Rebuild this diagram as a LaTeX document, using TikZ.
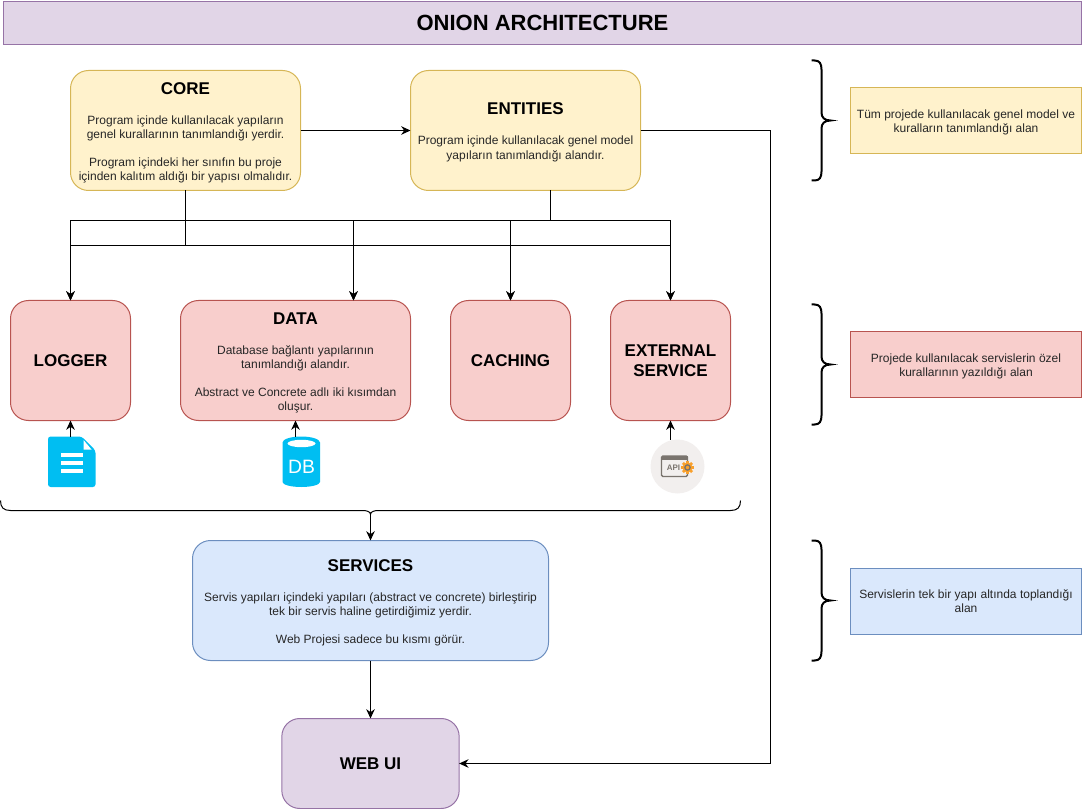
\documentclass[tikz,border=0pt]{standalone}
\usepackage{fontspec}
\setmainfont{Liberation Sans}
\usetikzlibrary{positioning,arrows.meta}
\newcommand{\headtext}[1]{{\fontsize{12.75}{14}\selectfont\bfseries\color{black}\rule{0pt}{12pt}#1}}
\newcommand{\soletext}[1]{{\fontsize{12.75}{14}\selectfont\bfseries\color{black}#1}}

\begin{document}
\begin{tikzpicture}[
  x=0.75pt, y=-0.75pt,
  line width=0.75pt,
  >={Stealth[length=7pt,width=6.4pt]},
  area/.style={draw, rounded corners=13.5pt, outer sep=0pt, inner sep=1pt, align=center, text=black!85,
    font=\fontsize{9}{10.5}\selectfont},
  yellowbox/.style={area, fill=corefill, draw=coreline},
  redbox/.style={area, fill=servfill, draw=servline},
  bluebox/.style={area, fill=bluefill, draw=blueline},
  purplebox/.style={area, fill=purpfill, draw=purpline},
  note/.style={draw, sharp corners, outer sep=0pt, inner sep=1pt, align=center, minimum width=173.25pt, minimum height=49.5pt,
    text=black!85, font=\fontsize{9}{10.5}\selectfont},
  iconspot/.style={inner sep=0pt, outer sep=0pt}
]
\definecolor{corefill}{HTML}{FFF2CC}
\definecolor{coreline}{HTML}{D6B656}
\definecolor{servfill}{HTML}{F8CECC}
\definecolor{servline}{HTML}{B85450}
\definecolor{bluefill}{HTML}{DAE8FC}
\definecolor{blueline}{HTML}{6C8EBF}
\definecolor{purpfill}{HTML}{E1D5E7}
\definecolor{purpline}{HTML}{9673A6}
\definecolor{iconblue}{HTML}{00BEF2}
\definecolor{apigrey}{HTML}{7A746E}
\definecolor{apiback}{HTML}{F2EFEE}
\definecolor{apigear}{HTML}{F9A02C}
\useasboundingbox (-0.5,-0.5) rectangle (1081.5,808.5);

% Title bar
\node[draw=purpline, fill=purpfill, outer sep=0pt, minimum width=808.5pt, minimum height=32.25pt, font=\fontsize{16.5}{19}\selectfont\bfseries] (title) at (542,22.5) {ONION ARCHITECTURE};

% Top layer
\node[yellowbox, minimum width=172.5pt, minimum height=90pt] (core) at (185,130) {\headtext{CORE}\\[12pt]Program içinde kullanılacak yapıların\\genel kurallarının tanımlandığı yerdir.\\[10.5pt]Program içindeki her sınıfın bu proje\\içinden kalıtım aldığı bir yapısı olmalıdır.};
\node[yellowbox, minimum width=172.5pt, minimum height=90pt, right=82.5pt of core] (entities) {\headtext{ENTITIES}\\[12pt]Program içinde kullanılacak genel model\\[0.5pt]yapıların tanımlandığı alandır.};
\coordinate (entout) at ([xshift=18.75pt]entities.south);

% Service layer
\node[redbox, minimum width=90pt, minimum height=90pt] (logger) at (70,360) {\soletext{LOGGER}};
\node[redbox, minimum width=172.5pt, minimum height=90pt, right=37.5pt of logger] (data) {\headtext{DATA}\\[12pt]Database bağlantı yapılarının\\tanımlandığı alandır.\\[10.5pt]Abstract ve Concrete adlı iki kısımdan\\oluşur.};
\node[redbox, minimum width=90pt, minimum height=90pt, right=30pt of data] (caching) {\soletext{CACHING}};
\node[redbox, minimum width=90pt, minimum height=90pt, right=30pt of caching] (external) {\soletext{EXTERNAL}\\[4.5pt]\soletext{SERVICE}};
\coordinate (datain) at ([xshift=43.5pt]data.north);

% Lower layers
\node[bluebox, minimum width=267pt, minimum height=90pt] (services) at (370,600) {\headtext{SERVICES}\\[12pt]Servis yapıları içindeki yapıları (abstract ve concrete) birleştirip\\tek bir servis haline getirdiğimiz yerdir.\\[10.5pt]Web Projesi sadece bu kısmı görür.};
\node[purplebox, minimum width=133pt, minimum height=67.5pt, below=43.5pt of services] (webui) {\soletext{WEB UI}};

% Notes on the right
\node[note, fill=corefill, draw=coreline] (noteyellow) at (965.5,120) {\rule{0pt}{9.5pt}Tüm projede kullanılacak genel model ve\\kuralların tanımlandığı alan};
\node[note, fill=servfill, draw=servline] (notered) at (965.5,364) {\rule{0pt}{9.5pt}Projede kullanılacak servislerin özel\\kurallarının yazıldığı alan};
\node[note, fill=bluefill, draw=blueline] (noteblue) at (965.5,600.5) {Servislerin tek bir yapı altında toplandığı\\alan};

% Icons
\node[iconspot, minimum width=36pt, minimum height=37.5pt] (fileicon) at (71,461) {};
\fill[iconblue, rounded corners=2pt] (47.5,436) -- (81,436) -- (95,450) -- (95,486.5) -- (47.5,486.5) -- cycle;
\fill[white] (83,439.5) -- (91,449) -- (83,449) -- cycle;
\foreach \ybar in {452,460,468}
  \fill[white] (60,\ybar) rectangle (82,\ybar+4.5);

\node[iconspot, minimum width=28pt, minimum height=37.5pt] (dbicon) at (295,461) {};
\fill[iconblue] (282,442) arc[start angle=180, end angle=360, x radius=18.75, y radius=6] -- (319.5,481.5) arc[start angle=0, end angle=180, x radius=18.75, y radius=5] -- cycle;
\fill[white] (301,443) ellipse[x radius=14, y radius=3.7];
\node[iconspot, text=white, font=\fontsize{14.5}{16}\selectfont] (dbtext) at (301,466) {DB};

\node[iconspot, circle, fill=apiback, minimum size=40.5pt] (apiicon) at (677,466) {};
\draw[apigrey, line width=1pt, rounded corners=1pt] (661,455.5) rectangle (687,476);
\fill[apigrey] (661,455.5) rectangle (687,459);
\node[iconspot, text=apigrey, font=\fontsize{6}{7}\selectfont\bfseries] (apitext) at (673,467) {API};
\foreach \ang in {0,45,...,315}
  \draw[apigear, line width=2pt] (687,467) -- ++(\ang:6.5);
\fill[apigear] (687,467) circle[radius=5];
\draw[apigrey, line width=1pt] (687,467) circle[radius=2.6];

% Right braces
\foreach \ytop in {60,304,540}
  \draw[line width=1.5pt] (811,\ytop) -- (814,\ytop) .. controls (819,\ytop) and (821,\ytop+3) .. (821,\ytop+9)
    -- (821,\ytop+52) .. controls (821,\ytop+57) and (824,\ytop+60) .. (830,\ytop+60)
    .. controls (824,\ytop+60) and (821,\ytop+63) .. (821,\ytop+68)
    -- (821,\ytop+111) .. controls (821,\ytop+117) and (819,\ytop+120) .. (814,\ytop+120) -- (811,\ytop+120);

% Bottom brace
\draw (0,500) .. controls (0,507) and (3,510) .. (10,510) -- (362,510) .. controls (366,510) and (370,511) .. (370,514)
  .. controls (370,511) and (374,510) .. (378,510) -- (730,510) .. controls (737,510) and (740,507) .. (740,500);
\coordinate (bracetip) at (370,513);

% Connections
\draw[->] (core) -- (entities);
\foreach \target in {logger.north,datain,caching.north,external.north} {
  \draw[->] (core.south) -- ++(0,55) -| (\target);
  \draw[->] (entout) -- ++(0,30) -| (\target);
}
\draw[->] (entities.east) -- ++(130,0) |- (webui.east);
\draw[->] (fileicon.north -| logger.south) -- (logger.south);
\draw[->] (dbicon.north) -- (dbicon.north |- data.south);
\draw[->] (apiicon.north -| external.south) -- (external.south);
\draw[->] (bracetip) -- (services.north);
\draw[->] (services) -- (webui);

\end{tikzpicture}
\end{document}
